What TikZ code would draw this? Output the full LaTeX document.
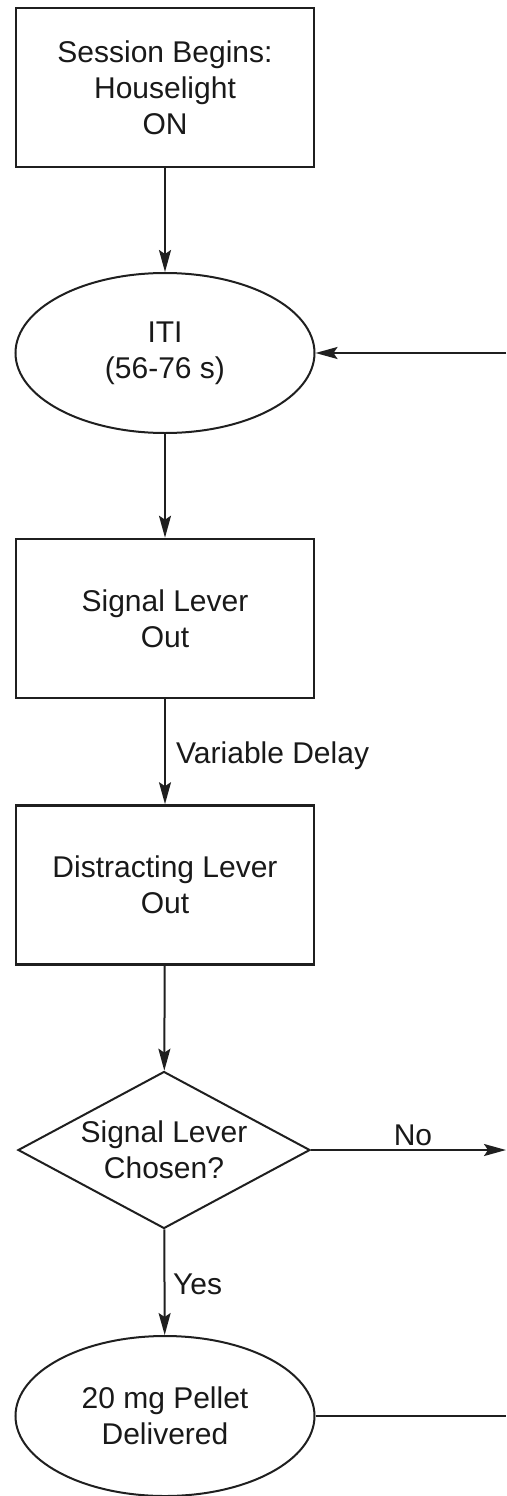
\documentclass[tikz,border=0pt]{standalone}
\usepackage{fontspec}
\setmainfont{Liberation Sans}
\usetikzlibrary{shapes.geometric,arrows.meta}
\begin{document}
\begin{tikzpicture}[x=1pt,y=-1pt,
  font=\fontsize{30}{36}\selectfont,
  every node/.style={text=black!90},
  stepbox/.style={draw=black!88, line width=2.6pt, rectangle, minimum width=298pt, minimum height=159pt, inner sep=0pt, align=center},
  statebox/.style={draw=black!88, line width=2pt, ellipse, minimum width=299pt, minimum height=160pt, inner sep=0pt, align=center},
  choicebox/.style={draw=black!88, line width=2pt, diamond, aspect=1.86, minimum width=292pt, minimum height=157pt, inner sep=0pt, align=center},
  flow/.style={draw=black!88, line width=2pt, -{Stealth[length=22pt,width=12pt,inset=4pt]}},
  plain/.style={draw=black!88, line width=2pt},
  lbl/.style={inner sep=0pt}]
\useasboundingbox (0,0) rectangle (506,1496);

% main sequence of the session
\node[stepbox]   (start)  at (165,87.5) {Session Begins:\\Houselight\\ON};
\node[statebox]  (iti)    at (165,353)  {ITI\\(56-76 s)};
\node[stepbox]   (signal) at (165,618.5) {Signal Lever\\Out};
\node[stepbox]   (distr)  at (165,885)  {Distracting Lever\\Out};
\node[choicebox] (choice) at (164,1150) {Signal Lever\\Chosen?};
\node[statebox]  (pellet) at (165,1416) {20 mg Pellet\\Delivered};

% loose ends at the right margin
\coordinate (back) at (506,353);
\coordinate (noend) at (506,1150);
\coordinate (pelend) at (506,1416);

\draw[flow] (start) -- (iti);
\draw[flow] (back) -- (iti.east);
\draw[flow] (iti) -- (signal);
\draw[flow] (signal) -- (distr);
\draw[flow] (distr) -- (choice);
\draw[flow] (choice.east) -- (noend);
\draw[flow] (choice) -- (pellet);
\draw[plain] (pellet.east) -- (pelend);

% connector labels
\node[lbl, anchor=base west] (delay) at (176,763) {Variable Delay};
\node[lbl, anchor=base] (no) at (413,1145) {No};
\node[lbl, anchor=base west] (yes) at (173,1294) {Yes};
\end{tikzpicture}
\end{document}
